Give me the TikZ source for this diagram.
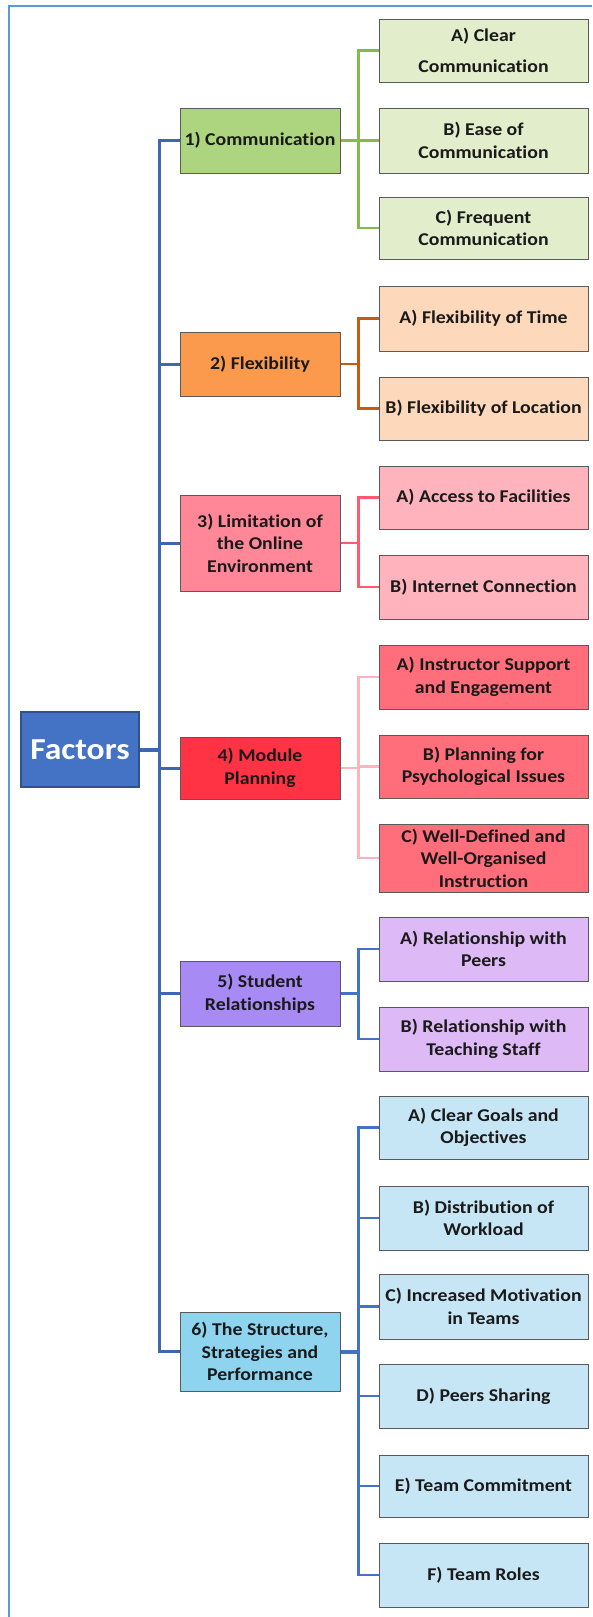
\documentclass[tikz,border=0pt]{standalone}
\usepackage{fontspec}
\setmainfont{Carlito}[FakeStretch=1.1, Ligatures=NoCommon]
\definecolor{framec}{HTML}{5B9BD5}
\definecolor{factorsfill}{HTML}{4472C4}
\definecolor{factorsdraw}{HTML}{2F528F}
\definecolor{trunkc}{HTML}{3F66B0}
\definecolor{boxdraw}{HTML}{5A5A5A}
\definecolor{txt}{HTML}{1A1A1A}
\definecolor{cAfill}{HTML}{ADD47E}
\definecolor{cAsub}{HTML}{E2EDCC}
\definecolor{cAline}{HTML}{80BB4C}
\definecolor{cBfill}{HTML}{FB9A4C}
\definecolor{cBsub}{HTML}{FED8BA}
\definecolor{cBline}{HTML}{C55A11}
\definecolor{cCfill}{HTML}{FF8797}
\definecolor{cCsub}{HTML}{FFB3BD}
\definecolor{cCline}{HTML}{FF5A70}
\definecolor{cDfill}{HTML}{FF3344}
\definecolor{cDsub}{HTML}{FF6E7A}
\definecolor{cDline}{HTML}{FFB3BC}
\definecolor{cEfill}{HTML}{A88AF5}
\definecolor{cEsub}{HTML}{DDB9F6}
\definecolor{cFfill}{HTML}{8ED4EE}
\definecolor{cFsub}{HTML}{C7E6F5}
\definecolor{blueline}{HTML}{4472C4}
\begin{document}
\begin{tikzpicture}[x=1pt,y=-1pt,
  basebox/.style={draw=boxdraw, line width=1pt, inner sep=0pt, align=center, text=txt,
    font=\bfseries\fontsize{18}{22.5}\selectfont},
  lone/.style={basebox, minimum width=160pt},
  ltwo/.style={basebox, minimum width=209pt},
  trunk/.style={draw=trunkc, line width=3pt},
  conn/.style={line width=2.5pt}]
\useasboundingbox (0,0) rectangle (592,1617);
\draw[draw=framec, line width=1.5pt] (9,1617) -- (9,6) -- (592,6);

\node[basebox, draw=factorsdraw, line width=1.5pt, fill=factorsfill, text=white,
  minimum width=118pt, minimum height=75pt, font=\bfseries\fontsize{30.5}{36}\selectfont]
  (factors) at (80,749.5) {Factors};

\node[lone, fill=cAfill, minimum height=65pt] (c1) at (260,140.5) {1) Communication};
\node[lone, fill=cBfill, minimum height=64pt] (c2) at (260,364) {2) Flexibility};
\node[lone, fill=cCfill, minimum height=96pt] (c3) at (260,543) {3) Limitation of\\the Online\\Environment};
\node[lone, fill=cDfill, minimum height=62pt] (c4) at (260,768) {4) Module\\Planning};
\node[lone, fill=cEfill, minimum height=65pt] (c5) at (260,993.5) {5) Student\\Relationships};
\node[lone, fill=cFfill, minimum height=79pt] (c6) at (260,1351.5) {6) The Structure,\\Strategies and\\Performance};

\node[ltwo, fill=cAsub, minimum height=63pt, font=\bfseries\fontsize{18}{31}\selectfont] (c1a) at (483.5,50.5) {A) Clear\\Communication};
\node[ltwo, fill=cAsub, minimum height=65pt] (c1b) at (483.5,140.5) {B) Ease of\\Communication};
\node[ltwo, fill=cAsub, minimum height=62pt] (c1c) at (483.5,228) {C) Frequent\\Communication};

\node[ltwo, fill=cBsub, minimum height=65pt] (c2a) at (483.5,318.5) {A) Flexibility of Time};
\node[ltwo, fill=cBsub, minimum height=63pt] (c2b) at (483.5,408.5) {B) Flexibility of Location};

\node[ltwo, fill=cCsub, minimum height=63pt] (c3a) at (483.5,497.5) {A) Access to Facilities};
\node[ltwo, fill=cCsub, minimum height=64pt] (c3b) at (483.5,587) {B) Internet Connection};

\node[ltwo, fill=cDsub, minimum height=64pt] (c4a) at (483.5,677) {A) Instructor Support\\and Engagement};
\node[ltwo, fill=cDsub, minimum height=63pt] (c4b) at (483.5,766.5) {B) Planning for\\Psychological Issues};
\node[ltwo, fill=cDsub, minimum height=68pt] (c4c) at (483.5,858) {C) Well-Defined and\\Well-Organised\\Instruction};

\node[ltwo, fill=cEsub, minimum height=64pt] (c5a) at (483.5,949) {A) Relationship with\\Peers};
\node[ltwo, fill=cEsub, minimum height=64pt] (c5b) at (483.5,1039) {B) Relationship with\\Teaching Staff};

\node[ltwo, fill=cFsub, minimum height=63pt] (c6a) at (483.5,1127.5) {A) Clear Goals and\\Objectives};
\node[ltwo, fill=cFsub, minimum height=64pt] (c6b) at (483.5,1218) {B) Distribution of\\Workload};
\node[ltwo, fill=cFsub, minimum height=65pt] (c6c) at (483.5,1306.5) {C) Increased Motivation\\in Teams};
\node[ltwo, fill=cFsub, minimum height=64pt] (c6d) at (483.5,1396) {D) Peers Sharing};
\node[ltwo, fill=cFsub, minimum height=62pt] (c6e) at (483.5,1486) {E) Team Commitment};
\node[ltwo, fill=cFsub, minimum height=64pt] (c6f) at (483.5,1575) {F) Team Roles};

% trunk
\draw[trunk, line width=4pt] (factors.east) -- ++(20,0);
\foreach \n in {c1,c2,c3,c4,c5,c6}
  \draw[trunk] (factors.east) ++(20,0) |- (\n.west);

% branches
\foreach \n in {c1a,c1b,c1c}
  \draw[conn, draw=cAline] (c1.east) -- ++(18,0) |- (\n.west);
\foreach \n in {c2a,c2b}
  \draw[conn, draw=cBline] (c2.east) -- ++(18,0) |- (\n.west);
\foreach \n in {c3a,c3b}
  \draw[conn, draw=cCline] (c3.east) -- ++(18,0) |- (\n.west);
\foreach \n in {c4a,c4b,c4c}
  \draw[conn, draw=cDline] (c4.east) -- ++(18,0) |- (\n.west);
\foreach \n in {c5a,c5b}
  \draw[conn, draw=blueline] (c5.east) -- ++(18,0) |- (\n.west);
\draw[conn, draw=blueline, line width=4pt] (c6.east) -- ++(18,0);
\foreach \n in {c6a,c6b,c6c,c6d,c6e,c6f}
  \draw[conn, draw=blueline] (c6.east) -- ++(18,0) |- (\n.west);
\end{tikzpicture}
\end{document}
